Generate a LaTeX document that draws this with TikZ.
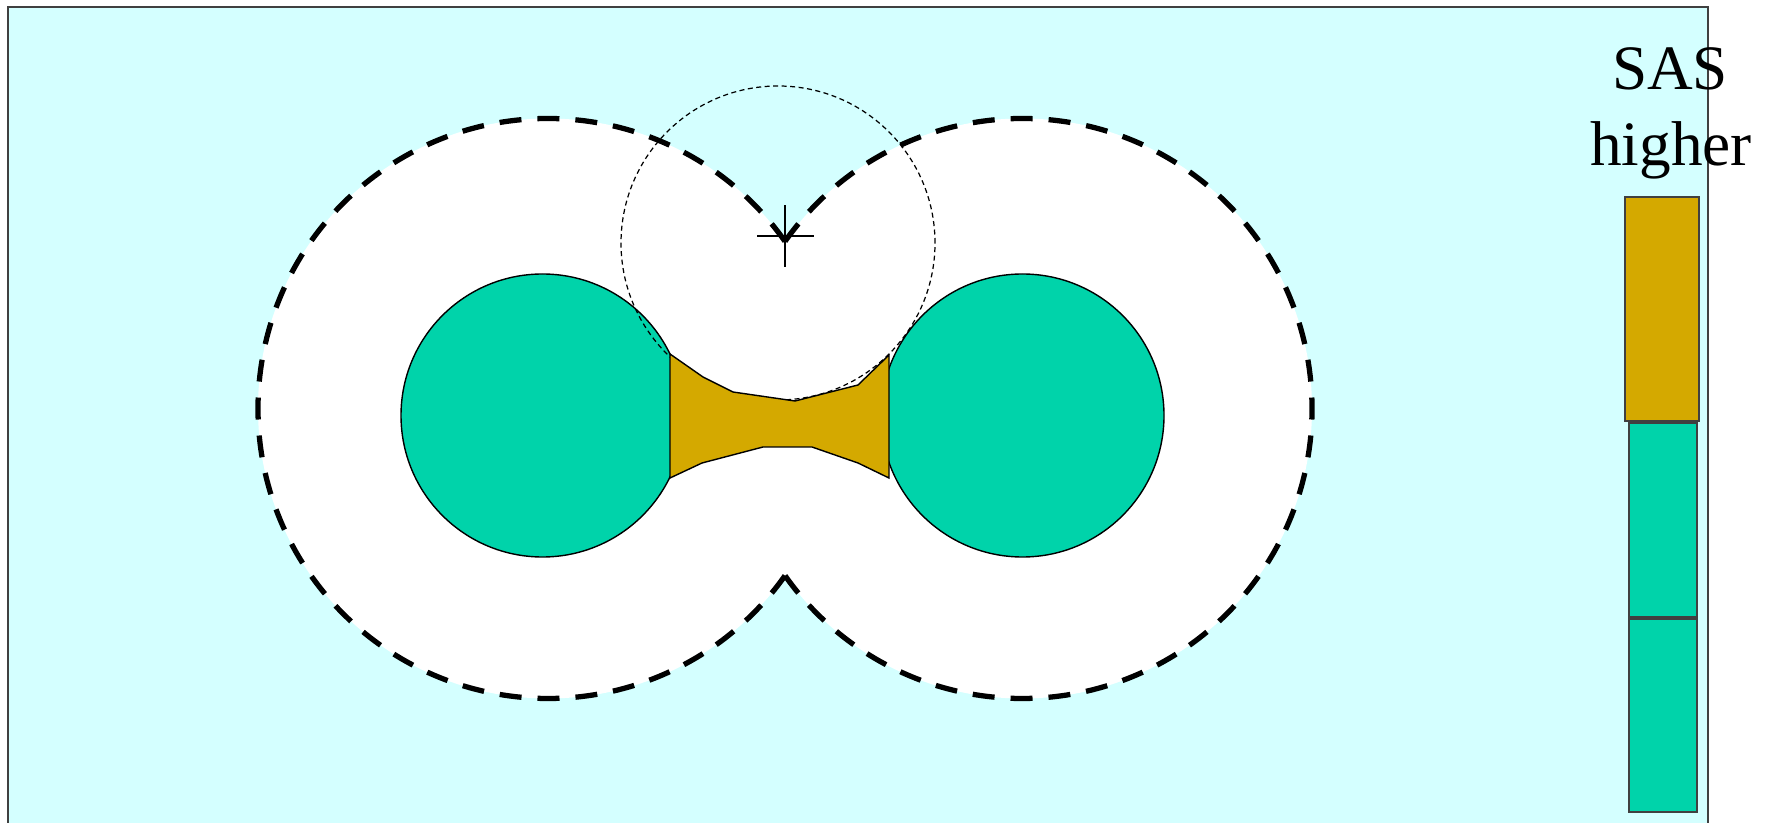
\documentclass[tikz,border=0pt]{standalone}
\usepackage{fontspec}
\setmainfont{Liberation Serif}
\usepackage{xcolor}
\usepackage{tikz}
\tikzset{
  frame/.style={draw=black!75, line width=0.6pt, fill=solvent},
  atom/.style={draw=black, line width=0.4pt, fill=atomfill},
  patch/.style={draw=black, line width=0.4pt, fill=sasfill, line join=miter},
  sasline/.style={draw=black, line width=1.5pt, dash pattern=on 2.2mm off 1.6mm},
  probe/.style={draw=black, line width=0.35pt, dash pattern=on 0.5mm off 0.35mm},
  keybox/.style={draw=black!75, line width=0.6pt},
  keytext/.style={font=\fontsize{18}{21.6}\selectfont, inner sep=0pt, anchor=base},
}
\definecolor{solvent}{RGB}{212,255,255}
\definecolor{atomfill}{RGB}{0,211,170}
\definecolor{sasfill}{RGB}{212,169,0}

\begin{document}
\begin{tikzpicture}[x=0.1mm, y=0.1mm]
    \useasboundingbox (0,0) rectangle (1769,822);
    %% --- solvent background ---
    \fill[solvent] (8,-10) rectangle (1708,815);
    \draw[black!75, line width=0.6pt] (8,-10) -- (8,815) -- (1708,815) -- (1708,-10);

    %% --- accessible region ---
    \coordinate (lsas) at (548,413.5);
    \coordinate (rsas) at (1022,413.5);
    \fill[white] (lsas) circle[radius=290];
    \fill[white] (rsas) circle[radius=290];

    %% --- atoms ---
    \coordinate (latom) at (542.5,406.5);
    \coordinate (ratom) at (1022.5,406.5);
    \path[atom] (latom) circle[radius=141.5];
    \path[atom] (ratom) circle[radius=141.5];

    %% --- probe sphere ---
    \coordinate (pc) at (778,579);
    \path[probe] (pc) circle[radius=157];

    %% --- re-entrant patch ---
    \path[patch] (670,468) -- (703,445) -- (733,430) -- (795,421) -- (858,437)
      -- (889,467) -- (889,344) -- (858,359) -- (812,375) -- (763,375)
      -- (702,359) -- (670,344) -- cycle;

    %% --- SAS outline ---
    \draw[sasline] (lsas) ++(35.2:290) arc[start angle=35.2, end angle=324.8, radius=290];
    \draw[sasline] (rsas) ++(144.8:290) arc[start angle=144.8, end angle=-144.8, radius=290];

    %% --- probe centre ---
    \coordinate (pcross) at (785,586);
    \draw[line width=0.45pt] (pcross) +(-28,0) -- +(29,0);
    \draw[line width=0.45pt] (pcross) +(0,-31) -- +(0,31);

    %% --- key ---
    \node[keytext] (sas) at (1670,732) {SAS};
    \node[keytext] (higher) at (1671,656) {higher};
    \path[keybox, fill=sasfill] (1625,401) rectangle (1699,625);
    \path[keybox, fill=atomfill] (1629,205) rectangle (1697,399);
    \path[keybox, fill=atomfill] (1629,10) rectangle (1697,203);
  \end{tikzpicture}
\end{document}
